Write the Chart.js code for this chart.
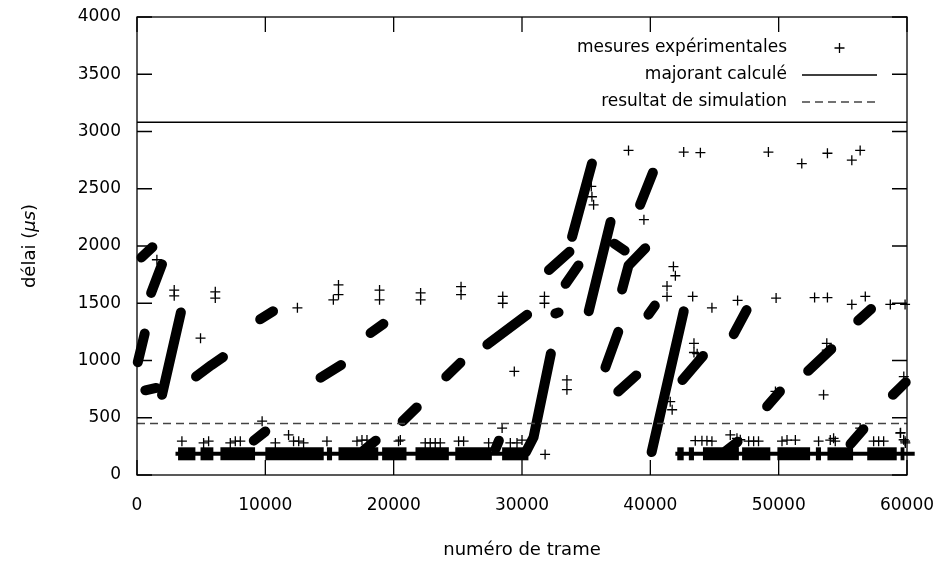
<!DOCTYPE html>
<html>
<head>
<meta charset="utf-8">
<script src="https://cdn.jsdelivr.net/npm/chart.js@4/dist/chart.umd.min.js"></script>
<style>
  html, body { margin: 0; padding: 0; background: #fff; }
</style>
</head>
<body>
<canvas id="chart" width="940" height="561"></canvas>
<script>
// Axis ticks
const xTicks = [0, 10000, 20000, 30000, 40000, 50000, 60000];
const yTicks = [0, 500, 1000, 1500, 2000, 2500, 3000, 3500, 4000];

// Reference lines (µs)
const majorant = 3080;     // majorant calculé
const simulation = 450;    // resultat de simulation

// Legend entries
const legendLabels = ['mesures expérimentales', 'majorant calculé', 'resultat de simulation'];

// Dense floor of measurements around 185 µs: [start frame, end frame]
const floorLevel = 185;
const floorRuns = [[3000, 30500], [41950, 60600]];
const floorBlocks = [
  [3200, 4550], [4950, 5950], [6500, 9200], [10000, 14550], [14800, 15200],
  [15700, 18800], [19100, 21000], [21700, 24300], [24800, 27650], [28450, 30500],
  [42100, 42600], [43000, 43400], [44100, 46900], [47150, 49350], [49900, 52450],
  [52900, 53300], [53800, 55800], [56900, 59200], [59500, 59800]
];

// Dense runs of measurements, read as [frame, delay] vertices
const streaks = [
  [[60, 985], [600, 1235]],
  [[350, 1900], [1200, 1990]],
  [[1100, 1590], [1950, 1840]],
  [[650, 740], [1500, 760]],
  [[1950, 700], [3420, 1420]],
  [[4600, 860], [5800, 960], [6700, 1030]],
  [[9600, 1360], [10600, 1430]],
  [[9100, 300], [10000, 380]],
  [[14300, 850], [15900, 960]],
  [[17700, 220], [18600, 300]],
  [[18200, 1240], [19200, 1320]],
  [[20700, 470], [21800, 590]],
  [[24100, 860], [25200, 980]],
  [[27950, 230], [28200, 300]],
  [[27300, 1140], [30400, 1400]],
  [[30300, 200], [30900, 330], [32250, 1060]],
  [[32100, 1790], [33700, 1950]],
  [[33400, 1670], [34400, 1830]],
  [[32600, 1410], [32850, 1420]],
  [[33900, 2080], [35450, 2720]],
  [[35200, 1430], [36900, 2210]],
  [[37200, 2020], [38000, 1960]],
  [[37800, 1620], [38300, 1830], [39600, 1980]],
  [[39200, 2360], [40200, 2640]],
  [[36500, 940], [37500, 1250]],
  [[37500, 730], [38900, 870]],
  [[39850, 1400], [40350, 1480]],
  [[40100, 200], [42600, 1430]],
  [[42500, 830], [44100, 1040]],
  [[45900, 210], [46800, 290]],
  [[46500, 1230], [47500, 1440]],
  [[49100, 600], [50100, 730]],
  [[52300, 910], [54100, 1100]],
  [[55600, 270], [56600, 400]],
  [[56200, 1350], [57200, 1450]],
  [[58900, 700], [59900, 810]]
];

// Isolated measurements: [frame, delay]
const outliers = [
  [2900, 1615], [2900, 1565], [6100, 1600], [6100, 1545], [4950, 1195], [1550, 1880],
  [12500, 1460], [15700, 1660], [15700, 1575], [15300, 1530], [18900, 1615], [18900, 1530],
  [22100, 1590], [22100, 1530], [25250, 1645], [25250, 1575], [28500, 1560], [28500, 1500],
  [31750, 1560], [31750, 1500], [29400, 905], [33500, 830], [33500, 745], [38300, 2835],
  [35400, 2520], [35450, 2430], [35580, 2360], [39500, 2230],
  [41800, 1820], [41950, 1740], [41300, 1650], [41300, 1560], [43300, 1560], [44800, 1460],
  [46800, 1525], [49800, 1545], [52800, 1550], [53800, 1550], [55700, 1490], [56750, 1560],
  [58700, 1490], [59850, 1490], [43400, 1150], [43400, 1070], [43650, 1060], [53750, 1150],
  [53750, 1090], [53500, 700], [49750, 730], [41550, 640], [59750, 860], [59500, 370],
  [59850, 295], [56350, 410], [42600, 2820], [43900, 2815], [49200, 2820], [51800, 2720],
  [53800, 2810], [55700, 2750], [56350, 2835], [28450, 410], [31800, 180], [41700, 570],
  [9750, 470],
  [3500, 295], [5190, 280], [5580, 295], [7270, 280], [7660, 295], [8050, 295], [10780, 280],
  [11810, 350], [12200, 295], [12600, 295], [12980, 280], [14800, 295], [17140, 295],
  [17530, 305], [17920, 305], [20380, 295], [20520, 305],
  [22460, 280], [22850, 280], [23240, 280], [23630, 280], [25060, 295], [25450, 295],
  [27400, 280], [29090, 280], [29610, 280], [30000, 305],
  [43500, 300], [44020, 300], [44410, 300], [44800, 295], [46230, 350], [46750, 320],
  [47010, 308], [47660, 295], [48050, 295], [48430, 295], [50260, 295], [50650, 305],
  [51300, 305], [53110, 295], [54020, 305], [54280, 320], [54410, 295], [57400, 295],
  [57790, 295], [58180, 295], [59480, 366], [59740, 308], [59870, 280]
];

const FONT = '"DejaVu Sans", sans-serif';
const toPts = arr => arr.map(p => ({ x: p[0], y: p[1] }));

const datasets = [];

// simulation result (dashed) and computed bound (solid)
datasets.push({
  type: 'line', data: toPts([[0, simulation], [60000, simulation]]),
  borderColor: '#444', borderWidth: 1.3, borderDash: [8, 5],
  pointRadius: 0, showLine: true
});
datasets.push({
  type: 'line', data: toPts([[0, majorant], [60000, majorant]]),
  borderColor: '#000', borderWidth: 1.5, pointRadius: 0, showLine: true
});

// floor of measurements
floorRuns.forEach(r => datasets.push({
  type: 'line', data: toPts([[r[0], floorLevel], [r[1], floorLevel]]),
  borderColor: '#000', borderWidth: 4, pointRadius: 0, showLine: true, clip: false
}));
floorBlocks.forEach(r => datasets.push({
  type: 'line', data: toPts([[r[0], floorLevel], [r[1], floorLevel]]),
  borderColor: '#000', borderWidth: 13, borderCapStyle: 'butt',
  pointRadius: 0, showLine: true, clip: false
}));

// dense runs
streaks.forEach(s => datasets.push({
  type: 'line', data: toPts(s),
  borderColor: '#000', borderWidth: 10, borderCapStyle: 'round', borderJoinStyle: 'round',
  pointRadius: 0, showLine: true, clip: false
}));

// isolated points
datasets.push({
  type: 'scatter', data: toPts(outliers),
  pointStyle: 'cross', pointRadius: 5, borderColor: '#000', borderWidth: 1.3,
  clip: false
});

// box, inward ticks, axis titles and key
const framePlugin = {
  id: 'frame',
  afterDatasetsDraw(chart) {
    const ctx = chart.ctx;
    const a = chart.chartArea;
    const xs = chart.scales.x, ys = chart.scales.y;
    const tick = 15;
    ctx.save();
    ctx.strokeStyle = '#000';
    ctx.lineWidth = 1.3;
    ctx.strokeRect(a.left, a.top, a.right - a.left, a.bottom - a.top);
    ctx.beginPath();
    xTicks.forEach(v => {
      const px = xs.getPixelForValue(v);
      ctx.moveTo(px, a.bottom); ctx.lineTo(px, a.bottom - tick);
      ctx.moveTo(px, a.top); ctx.lineTo(px, a.top + tick);
    });
    yTicks.forEach(v => {
      const py = ys.getPixelForValue(v);
      ctx.moveTo(a.left, py); ctx.lineTo(a.left + tick, py);
      ctx.moveTo(a.right, py); ctx.lineTo(a.right - tick, py);
    });
    ctx.stroke();

    // x title
    ctx.fillStyle = '#000';
    ctx.font = '18px ' + FONT;
    ctx.textAlign = 'center';
    ctx.textBaseline = 'middle';
    ctx.fillText('numéro de trame', (a.left + a.right) / 2, 550);

    // y title, rotated, with italic µs
    const parts = [['délai (', '18px ' + FONT], ['μs', 'italic 18px ' + FONT], [')', '18px ' + FONT]];
    let total = 0;
    parts.forEach(p => { ctx.font = p[1]; total += ctx.measureText(p[0]).width; });
    ctx.translate(30, (a.top + a.bottom) / 2);
    ctx.rotate(-Math.PI / 2);
    ctx.textAlign = 'left';
    let cx = -total / 2;
    parts.forEach(p => { ctx.font = p[1]; ctx.fillText(p[0], cx, 0); cx += ctx.measureText(p[0]).width; });
    ctx.setTransform(1, 0, 0, 1, 0, 0);

    // key
    const rows = [48, 75, 102];
    const textRight = 787, s0 = 802, s1 = 877;
    ctx.font = '17px ' + FONT;
    ctx.textAlign = 'right';
    ctx.textBaseline = 'middle';
    legendLabels.forEach((t, i) => ctx.fillText(t, textRight, rows[i]));
    const mid = (s0 + s1) / 2;
    ctx.lineWidth = 1.3;
    ctx.beginPath();
    ctx.moveTo(mid - 5, rows[0]); ctx.lineTo(mid + 5, rows[0]);
    ctx.moveTo(mid, rows[0] - 5); ctx.lineTo(mid, rows[0] + 5);
    ctx.moveTo(s0, rows[1]); ctx.lineTo(s1, rows[1]);
    ctx.stroke();
    ctx.strokeStyle = '#444';
    ctx.setLineDash([8, 5]);
    ctx.beginPath();
    ctx.moveTo(s0, rows[2]); ctx.lineTo(s1, rows[2]);
    ctx.stroke();
    ctx.restore();
  }
};

new Chart(document.getElementById('chart'), {
  type: 'scatter',
  data: { datasets: datasets },
  options: {
    responsive: false,
    animation: false,
    events: [],
    layout: { padding: { left: 0, right: 33, top: 17, bottom: 0 } },
    plugins: { legend: { display: false }, tooltip: { enabled: false } },
    scales: {
      x: {
        type: 'linear', min: 0, max: 60000,
        afterFit: s => { s.height = 86; s.paddingLeft = 0; s.paddingRight = 0; },
        afterBuildTicks: s => { s.ticks = xTicks.map(v => ({ value: v })); },
        grid: { display: false, drawTicks: false },
        border: { display: false },
        ticks: { padding: 20, color: '#000', font: { family: FONT, size: 17 },
                 callback: v => String(v) }
      },
      y: {
        type: 'linear', min: 0, max: 4000,
        afterFit: s => { s.width = 137; s.paddingTop = 0; s.paddingBottom = 0; },
        afterBuildTicks: s => { s.ticks = yTicks.map(v => ({ value: v })); },
        grid: { display: false, drawTicks: false },
        border: { display: false },
        ticks: { padding: 16, color: '#000', font: { family: FONT, size: 17 },
                 callback: v => String(v) }
      }
    }
  },
  plugins: [framePlugin]
});
</script>
</body>
</html>
